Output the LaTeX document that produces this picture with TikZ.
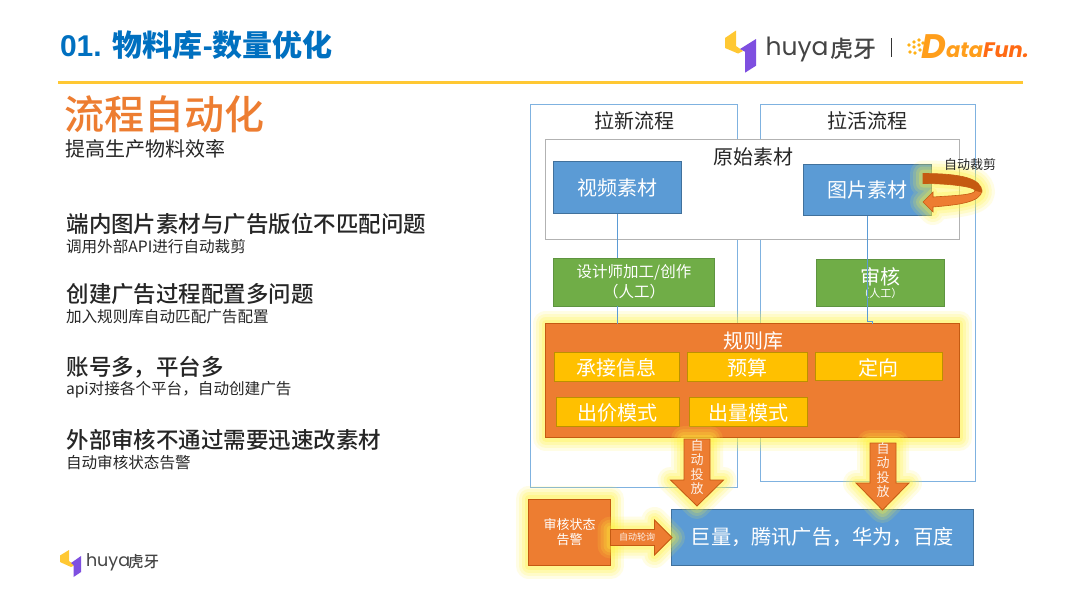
\documentclass[tikz,border=0pt]{standalone}
\usepackage{fontspec}
\setmainfont{Noto Sans CJK SC}
\newfontfamily\latinfont{Poppins}
\newfontfamily\dffont{Poppins}
\newfontfamily\titlelatin{Liberation Sans}
\newfontfamily\medfont{Noto Sans CJK SC Medium}
\usetikzlibrary{calc}
\definecolor{bluec}{HTML}{5B9BD5}
\definecolor{blued}{HTML}{41719C}
\definecolor{outer}{HTML}{7FB2E0}
\definecolor{greenc}{HTML}{70AD47}
\definecolor{greend}{HTML}{5E9440}
\definecolor{orangec}{HTML}{ED7D31}
\definecolor{oranged}{HTML}{C55A11}
\definecolor{goldc}{HTML}{FFC000}
\definecolor{goldd}{HTML}{BC9000}
\definecolor{glowc}{HTML}{FFF33A}
\definecolor{titleblue}{HTML}{0070C0}
\definecolor{ink}{HTML}{262626}
\definecolor{huyay}{HTML}{FFC833}
\definecolor{huyap}{HTML}{7E4FE0}
\definecolor{huyat}{HTML}{444444}
\definecolor{dfa}{HTML}{FF9E1B}
\definecolor{dfb}{HTML}{FF6A13}
\newcommand{\fs}[1]{\fontsize{#1}{#1}\selectfont}
\newcommand{\dn}[1]{\rule{0pt}{20pt}#1}
\tikzset{
  x=1pt,y=-1pt,
  glow/.style={
    preaction={draw=glowc,draw opacity=.13,line width=26pt,line join=round},
    preaction={draw=glowc,draw opacity=.16,line width=20pt,line join=round},
    preaction={draw=glowc,draw opacity=.2,line width=14pt,line join=round},
    preaction={draw=glowc,draw opacity=.25,line width=8pt,line join=round}},
  boxn/.style={rectangle,inner sep=0pt,outer sep=0pt,line width=.8pt,align=center,text=white},
  outerbox/.style={draw=outer,line width=1pt},
  rawbox/.style={draw=black!30,fill=white,line width=1pt},
  bluebox/.style={boxn,fill=bluec,draw=blued},
  greenbox/.style={boxn,fill=greenc,draw=greend},
  orangebox/.style={boxn,fill=orangec,draw=oranged},
  goldbox/.style={boxn,fill=goldc,draw=goldd,font=\fs{20}},
  link/.style={draw=bluec,line width=.9pt},
  blockarrow/.style={fill=orangec,draw=oranged,line width=.8pt,line join=miter},
  lbl/.style={inner sep=0pt,outer sep=0pt,align=center},
  head/.style={lbl,anchor=west,text=ink,font=\medfont\fs{22.5}},
  sub/.style={lbl,anchor=west,text=ink,font=\fs{15.6}},
}
\newcommand{\bx}[6]{% style,name,x1,y1,x2,y2 -> node
  \node[#1,minimum width=#5pt-#3pt,minimum height=#6pt-#4pt] (#2) at ({(#3+#5)/2},{(#4+#6)/2})}
\begin{document}
\begin{tikzpicture}
\useasboundingbox[fill=white] (0,0) rectangle (1080,608);
% header
\node[lbl,anchor=west,text=titleblue,font=\bfseries\fs{30}] (title) at (60,45) {{\titlelatin\bfseries 01. }物料库{\titlelatin\bfseries -}数量优化};
\coordinate (ruleL) at (58,82); \coordinate (ruleR) at (1023,82);
\draw[huyay,line width=3pt] (ruleL) -- (ruleR);
% top logo
\fill[huyay] (725,38) -- (736,30.5) -- (736,46) -- (743,51) -- (738,53.5) -- (725,48) -- cycle;
\fill[huyap] (756,39) -- (740,49) -- (745,51.7) -- (745,72.7) -- (756,65.7) -- cycle;
\node[lbl,anchor=west,text=huyat,font=\latinfont\fs{25}] (huya) at (765.5,49) {huya};
\node[lbl,anchor=west,text=huyat,font=\medfont\fs{23}] (huyacn) at (830,49) {虎牙};
\draw[black!80,line width=1pt] (891.5,38) -- (891.5,57);
\foreach \a/\b in {909/45,914/42,919/40,914/47,919/45,923/43,910/52,915/53,920/50}
  \fill[dfa!80!yellow] (\a,\b) +(-1.9,0) -- +(0,-1.9) -- +(1.9,0) -- +(0,1.9) -- cycle;
\node[lbl,anchor=west,text=dfa,font=\dffont\bfseries\itshape\fs{34}] (dfd) at (921,47) {D};
\node[lbl,anchor=west,font=\dffont\bfseries\itshape\fs{21}] (datafun) at (946,50) {\textcolor{dfa}{ata}\textcolor{dfb}{Fun.}};
% bottom logo
\fill[huyay] (60,555.5) -- (69,550) -- (69,561) -- (75,565) -- (71,567) -- (60,562) -- cycle;
\fill[huyap] (81,556) -- (71,563) -- (73.5,565) -- (73.5,577) -- (81,572) -- cycle;
\node[lbl,anchor=west,text=huyat,font=\latinfont\fs{17.5}] (huya2) at (86,562) {huya};
\node[lbl,anchor=west,text=huyat,font=\medfont\fs{15.5}] (huyacn2) at (128,562) {虎牙};
% left column
\node[lbl,anchor=west,text=orangec,font=\medfont\fs{40}] (bigt) at (64.5,114) {流程自动化};
\node[lbl,anchor=west,text=ink,font=\fs{20}] (bigs) at (65,149) {提高生产物料效率};
\node[head] (h1) at (66.5,224) {端内图片素材与广告版位不匹配问题};
\node[sub]  (s1) at (66,246.5) {调用外部API进行自动裁剪};
\node[head] (h2) at (66.5,294) {创建广告过程配置多问题};
\node[sub]  (s2) at (66,316.5) {加入规则库自动匹配广告配置};
\node[head] (h3) at (66.5,367) {账号多，平台多};
\node[sub]  (s3) at (66,389.5) {api对接各个平台，自动创建广告};
\node[head] (h4) at (66.5,440) {外部审核不通过需要迅速改素材};
\node[sub]  (s4) at (66,462.5) {自动审核状态告警};
% process frames
\draw[outerbox] (530.5,104) rectangle (737.5,487);
\draw[outerbox] (760,104) rectangle (975,481);
\node[lbl,text=ink,font=\fs{20}] (lx) at (634,121) {拉新流程};
\node[lbl,text=ink,font=\fs{20}] (lh) at (867.5,121) {拉活流程};
\bx{rawbox,boxn}{raw}{545.5}{139.5}{959}{239.5} {};
\node[lbl,text=ink,font=\fs{20}] (rawt) at (753,157) {原始素材};
\bx{bluebox,font=\fs{20}}{video}{553.5}{161.5}{681.5}{213.5} {视频素材};
\bx{bluebox,font=\fs{20}}{image}{803.5}{164}{931.5}{215.5} {图片素材};
\bx{greenbox}{design}{553.5}{258}{714.5}{306} {\fs{15.5}设计师加工/创作\\[3pt]\fs{15.5}（人工）};
\bx{greenbox}{review}{816.5}{259.5}{944}{306} {\fs{20}审核\\[1pt]\fs{11}（人工）};
% glowing rule box
\bx{orangebox,glow}{rules}{545.5}{323.7}{959}{437.7} {};
\node[lbl,text=white,font=\fs{20}] (rulest) at (753,341) {规则库};
\draw[link] (video.south) -- (video.south |- design.north);
\draw[link] (video.south |- design.south) -- (video.south |- rules.north);
\coordinate (jog) at (867.5,321.5);
\draw[link] (image.south) -- (jog) -- ++(4.5,0) |- (rules.north -| 872,0);
\bx{goldbox}{g1}{554}{352}{679}{381} {\dn{承接信息}};
\bx{goldbox}{g2}{687.5}{352}{807}{381} {\dn{预算}};
\bx{goldbox}{g3}{815}{352}{942.5}{380.5} {\dn{定向}};
\bx{goldbox}{g4}{556}{397.5}{679}{426} {\dn{出价模式}};
\bx{goldbox}{g5}{689.5}{397.5}{807}{426} {\dn{出量模式}};
% platform box
\bx{bluebox,font=\fs{20.2}}{plat}{671}{509.5}{973.5}{565.5} {巨量，腾讯广告，华为，百度};
% alert box
\bx{orangebox,glow,font=\fs{13}}{alert}{528.7}{499}{610.5}{565.5} {审核状态\\[2.5pt]告警};
% block arrows
\path[blockarrow,glow] (684,439) -- (710,439) -- (710,480) -- (723.5,480) -- (697,506) -- (670.5,480) -- (684,480) -- cycle;
\node[lbl,text=white!90!orangec,font=\fs{13}] (a1) at (697,467) {自\\[1.3pt]动\\[1.3pt]投\\[1.3pt]放};
\path[blockarrow,glow] (870,443) -- (896,443) -- (896,483) -- (909,483) -- (882.5,510) -- (856,483) -- (870,483) -- cycle;
\node[lbl,text=white!90!orangec,font=\fs{13}] (a2) at (883,470) {自\\[1.3pt]动\\[1.3pt]投\\[1.3pt]放};
\path[blockarrow,glow] (610.5,529.5) -- (654.5,529.5) -- (654.5,520) -- (672,537.5) -- (654.5,555) -- (654.5,545.5) -- (610.5,545.5) -- cycle;
\node[lbl,text=white!90!orangec,font=\fs{9}] (a3) at (637,537.5) {自动轮询};
% u-turn arrow
\path[glow,draw=none] (923,173.5) .. controls (960,173.5) and (982,178) .. (982,192) .. controls (982,203) and (955,205) .. (933,207) -- (933,212) -- (923,202) -- (933,192) -- (933,197) .. controls (955,195) and (975,195) .. (975,190) .. controls (975,187) and (950,183.5) .. (923,183.5) -- cycle;
\fill[orangec,draw=oranged,line width=.6pt] (982,190) .. controls (982,203) and (955,205) .. (933,207) -- (933,212) -- (923,202) -- (933,192) -- (933,197) .. controls (955,195.5) and (975,195) .. (975,190.5) -- cycle;
\fill[oranged,draw=oranged,line width=.6pt] (923,173.5) .. controls (960,173.5) and (982,178) .. (982,192) -- (975,190.5) .. controls (975,187) and (950,183.5) .. (923,183.5) -- cycle;
\node[lbl,text=ink,font=\fs{13}] (crop) at (970,164.5) {自动裁剪};
\end{tikzpicture}
\end{document}
